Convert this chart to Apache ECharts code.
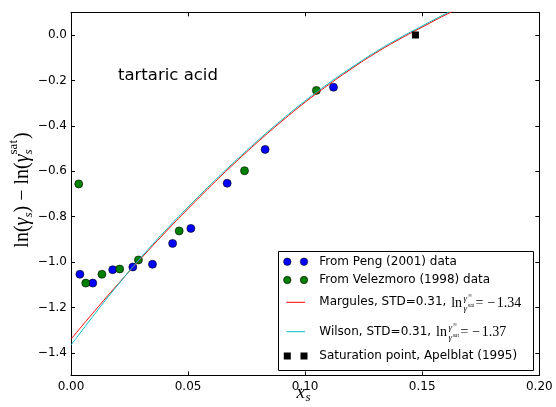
<!DOCTYPE html>
<html><head><meta charset="utf-8">
<script src="https://cdn.jsdelivr.net/npm/echarts@6/dist/echarts.min.js"></script>
<style>html,body{margin:0;padding:0;background:#fff}#c{width:556px;height:407px}</style>
</head><body><div id="c"></div>
<script>
// ---- data ----
const xTicks = [0, 0.05, 0.10, 0.15, 0.20];
const yTicks = [-1.4, -1.2, -1.0, -0.8, -0.6, -0.4, -0.2, 0.0];

const pengX = [0.0038, 0.0093, 0.0178, 0.0264, 0.0348, 0.0434, 0.0512, 0.0667, 0.0829, 0.1121];
const pengY = [-1.054, -1.093, -1.034, -1.022, -1.010, -0.918, -0.852, -0.653, -0.504, -0.230];

const velezX = [0.0033, 0.0063, 0.0132, 0.0208, 0.0288, 0.0462, 0.0741, 0.1048];
const velezY = [-0.656, -1.093, -1.054, -1.031, -0.991, -0.863, -0.598, -0.244];

const curveX    = [0, 0.01, 0.02, 0.03, 0.04, 0.05, 0.06, 0.07, 0.08, 0.09, 0.10, 0.11, 0.12, 0.13, 0.14, 0.15, 0.16, 0.17];
const margulesY = [-1.340, -1.217, -1.098, -0.983, -0.872, -0.765, -0.662, -0.563, -0.469, -0.380, -0.296, -0.219, -0.147, -0.080, -0.020, 0.035, 0.089, 0.140];
const wilsonY   = [-1.366, -1.231, -1.101, -0.979, -0.865, -0.758, -0.655, -0.557, -0.463, -0.374, -0.290, -0.213, -0.142, -0.075, -0.015, 0.040, 0.094, 0.145];

const satX = [0.1471];
const satY = [0.0];

const legendNames = ['From Peng (2001) data', 'From Velezmoro (1998) data', 'Margules, STD=0.31, ', 'Wilson, STD=0.31, ', 'Saturation point, Apelblat (1995)'];
const margulesInf = '1.34';
const wilsonInf = '1.37';

// ---- helpers ----
const zip = (xs, ys) => xs.map((x, i) => [x, ys[i]]);
const cv = document.createElement('canvas').getContext('2d');
function tw(t, font) { cv.font = font; return cv.measureText(t).width; }
const SANS = 'DejaVu Sans';
const SERIF = 'Liberation Serif';
function txt(x, y, text, font, align, valign, extra) {
  return Object.assign({ type: 'text', x: x, y: y, z: 100,
    style: { text: text, font: font, fill: '#000', align: align || 'left', textAlign: align || 'left',
             verticalAlign: valign || 'middle', textVerticalAlign: valign || 'middle' } }, extra || {});
}

// ---- legend (custom, matplotlib-like) ----
const LX0 = 278.5, LY0 = 251.5, LW = 255, LH = 119;
const rowY = [261.7, 280, 302.3, 331.7, 356];
const mk1 = 287.3, mk2 = 304, textX = 319.3;
const g = [];
g.push({ type: 'rect', shape: { x: LX0, y: LY0, width: LW, height: LH }, z: 90,
  style: { fill: '#fff', stroke: '#000', lineWidth: 1 } });
[['#0000ff', 0], ['#008000', 1]].forEach(([c, i]) => {
  [mk1, mk2].forEach(cx => g.push({ type: 'circle', z: 100, shape: { cx: cx, cy: rowY[i], r: 3.7 },
    style: { fill: c, stroke: '#000', lineWidth: 0.6 } }));
});
[['#ff0000', 2], ['#00bfbf', 3]].forEach(([c, i]) => {
  g.push({ type: 'line', z: 100, shape: { x1: 286.5, y1: rowY[i], x2: 305, y2: rowY[i] },
    style: { stroke: c, lineWidth: 1 } });
});
[mk1, mk2].forEach(cx => g.push({ type: 'rect', z: 100, shape: { x: cx - 3.5, y: rowY[4] - 3.5, width: 7, height: 7 },
  style: { fill: '#000' } }));
legendNames.forEach((n, i) => g.push(txt(textX, rowY[i], n, '12px "' + SANS + '"')));
// math part:  ln (γ^∞ / γ^sat) = −value
[[2, margulesInf], [3, wilsonInf]].forEach(([i, val]) => {
  const f12 = '12px "' + SANS + '"';
  let x = textX + tw(legendNames[i], f12) + 1;
  const y = rowY[i] + 1;
  const fs = '14px "' + SERIF + '"';
  g.push(txt(x, y, 'ln', fs));
  x += tw('ln', fs) + 0.5;
  const fsm = 'italic 9px "' + SERIF + '"';
  const fsmm = '5.5px "' + SERIF + '"';
  g.push(txt(x + 1, y - 5, 'γ', fsm));
  g.push(txt(x + 5.5, y - 8, '∞', fsmm));
  g.push(txt(x + 1, y + 5, 'γ', fsm));
  g.push(txt(x + 5.5, y + 2.5, 'sat', fsmm));
  x += 13;
  g.push(txt(x, y, '=', fs));
  x += tw('=', fs) + 4;
  g.push(txt(x, y, '−', fs));
  x += tw('−', fs) + 1.5;
  g.push(txt(x, y, val, fs));
});

// "tartaric acid"
g.push(txt(118, 75.5, 'tartaric acid', '16.5px "' + SANS + '"'));

// x label: x_s
g.push(txt(305, 393, 'x', 'italic 19px "' + SERIF + '"', 'right'));
g.push(txt(305.5, 398, 's', 'italic 13px "' + SERIF + '"', 'left'));

// y label: ln(γ_s) − ln(γ_s^sat), rotated
(function () {
  const fR = '20px "' + SERIF + '"', fI = 'italic 20px "' + SERIF + '"';
  const fSI = 'italic 13px "' + SERIF + '"', fS = '13px "' + SERIF + '"';
  const parts = [];
  let x = 0;
  function add(t, f, dy) { parts.push([x, dy, t, f]); x += tw(t, f); }
  add('ln(', fR, 0); add('γ', fI, 0); add('s', fSI, 6); add(')', fR, 0);
  add(' − ', fR, 0); add('ln(', fR, 0); add('γ', fI, 0);
  const sx = x;
  add('s', fSI, 6);
  x = sx; parts.push([x, -9, 'sat', fS]); x += tw('sat', fS) + 1;
  add(')', fR, 0);
  const tot = x;
  const children = parts.map(p => txt(p[0] - tot / 2, p[1], p[2], p[3]));
  g.push({ type: 'group', x: 23, y: 190, rotation: Math.PI / 2, z: 100, children: children });
})();

// ---- chart ----
const chart = echarts.init(document.getElementById('c'), null, { renderer: 'canvas' });
const axisCommon = {
  type: 'value', splitLine: { show: false },
  axisLine: { show: true, onZero: false, lineStyle: { color: '#000', width: 1 } },
};
const fmtX = v => v.toFixed(2);
const fmtY = v => v.toFixed(1).replace('-', '−');
chart.setOption({
  animation: false,
  backgroundColor: '#fff',
  grid: { left: 71, right: 16.7, top: 12.3, bottom: 31.5, containLabel: false },
  xAxis: [
    Object.assign({}, axisCommon, { min: 0, max: 0.2, position: 'bottom',
      axisTick: { show: true, inside: true, length: 4, customValues: xTicks, lineStyle: { color: '#000' } },
      axisLabel: { show: true, customValues: xTicks, formatter: fmtX, margin: 5, color: '#000', fontSize: 12, fontFamily: SANS } }),
    Object.assign({}, axisCommon, { min: 0, max: 0.2, position: 'top',
      axisTick: { show: true, inside: true, length: 4, customValues: xTicks, lineStyle: { color: '#000' } },
      axisLabel: { show: false } })
  ],
  yAxis: [
    Object.assign({}, axisCommon, { min: -1.5, max: 0.1, position: 'left',
      axisTick: { show: true, inside: true, length: 4, customValues: yTicks, lineStyle: { color: '#000' } },
      axisLabel: { show: true, customValues: yTicks, formatter: fmtY, margin: 4, color: '#000', fontSize: 12, fontFamily: SANS } }),
    Object.assign({}, axisCommon, { min: -1.5, max: 0.1, position: 'right',
      axisTick: { show: true, inside: true, length: 4, customValues: yTicks, lineStyle: { color: '#000' } },
      axisLabel: { show: false } })
  ],
  series: [
    { name: legendNames[0], type: 'scatter', data: zip(pengX, pengY), symbol: 'circle', symbolSize: 8,
      itemStyle: { color: '#0000ff', borderColor: '#000', borderWidth: 0.6, opacity: 1 }, z: 2 },
    { name: legendNames[1], type: 'scatter', data: zip(velezX, velezY), symbol: 'circle', symbolSize: 8,
      itemStyle: { color: '#008000', borderColor: '#000', borderWidth: 0.6, opacity: 1 }, z: 2 },
    { name: 'Margules', type: 'line', data: zip(curveX, margulesY), showSymbol: false, symbol: 'none', smooth: true,
      lineStyle: { color: '#ff0000', width: 1 }, clip: true, z: 3 },
    { name: 'Wilson', type: 'line', data: zip(curveX, wilsonY), showSymbol: false, symbol: 'none', smooth: true,
      lineStyle: { color: '#00bfbf', width: 1 }, clip: true, z: 3 },
    { name: legendNames[4], type: 'scatter', data: zip(satX, satY), symbol: 'rect', symbolSize: 7,
      itemStyle: { color: '#000', opacity: 1 }, z: 4 }
  ],
  graphic: g
});
</script>
</body></html>
